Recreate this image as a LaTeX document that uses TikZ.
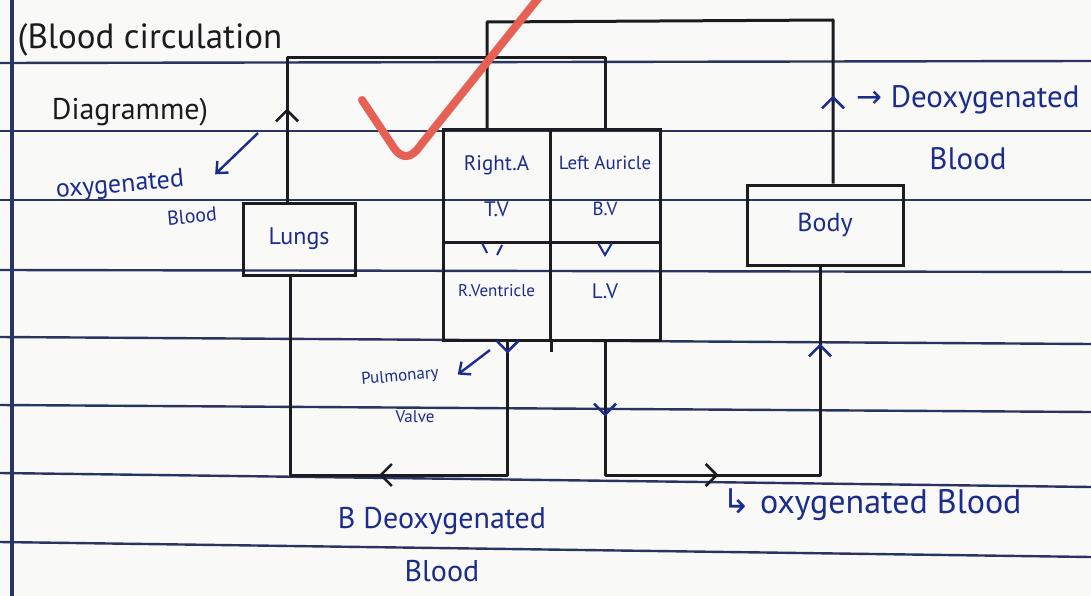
\documentclass[tikz,border=0pt]{standalone}
\usepackage{fontspec}
\setmainfont{PT Sans}
\newfontfamily\arrowfont{DejaVu Sans}
\usetikzlibrary{arrows.meta,decorations.markings}
\definecolor{inkblack}{RGB}{28,28,32}
\definecolor{inkblue}{RGB}{28,44,140}
\definecolor{ruleblue}{RGB}{42,52,96}
\definecolor{paper}{RGB}{249,249,247}
\definecolor{checkred}{RGB}{231,96,84}
\tikzset{
  pipe/.style={draw=inkblack,line width=3pt,line join=round},
  flowtip/.style 2 args={postaction={decorate,decoration={markings,mark=at position #1 with {\arrow[#2,line width=2.6pt]{Straight Barb[length=11pt,width=22pt]}}}}},
  organ/.style={draw=inkblack,line width=3pt,text=inkblue,inner sep=0pt},
  cell/.style={draw=inkblack,line width=3pt,text=inkblue,inner sep=0pt,align=center},
  note/.style={-{Straight Barb[length=9pt,width=16pt]},draw=inkblue,line width=2.4pt},
  lab/.style={text=inkblue,align=center,inner sep=1pt},
  head/.style={text=inkblack,align=left},
  ruling/.style={draw=ruleblue,line width=2.4pt}
}
\begin{document}
\begin{tikzpicture}[x=1pt,y=-1pt]
  \fill[paper] (0,0) rectangle (1091,596);
  \useasboundingbox (0,0) rectangle (1091,596);
  \foreach \ya/\yb in {63/61,131/131,200/200,270/272,337/344,405/412,473/487,542/557}{\draw[ruling] (0,\ya)--(1091,\yb);}
  \draw[ruleblue,line width=3.5pt] (12,0)--(12,596);

  \node[head,font=\fontsize{35}{38}\selectfont] (title) at (150,40) {(Blood circulation};
  \node[head,font=\fontsize{30}{34}\selectfont] (titleb) at (130,112) {Diagramme)};

  \node[organ,minimum width=112pt,minimum height=72pt,font=\fontsize{24}{28}\selectfont] (lungs) at (299,239) {Lungs};
  \node[organ,minimum width=156pt,minimum height=80pt,font=\fontsize{26}{30}\selectfont] (body) at (825,225) {Body};

  \node[cell,minimum width=107pt,minimum height=112pt,font=\fontsize{21}{46}\selectfont] (ra) at (496.5,186) {Right.A\\T.V};
  \node[cell,minimum width=110pt,minimum height=112pt,font=\fontsize{19}{46}\selectfont] (la) at (605,186) {Left Auricle\\B.V};
  \node[cell,minimum width=107pt,minimum height=98pt,font=\fontsize{17}{20}\selectfont] (rv) at (496.5,291) {R.Ventricle};
  \node[cell,minimum width=110pt,minimum height=98pt,font=\fontsize{21}{24}\selectfont] (lv) at (605,291) {L.V};
  \draw[pipe] (rv.south east) -- ++(0,10);
  \draw[inkblue,line width=2pt] (482,243)--(487,253) (502,245)--(497,255);
  \draw[inkblue,line width=2pt] (598,243)--(605,255)--(612,243);

  \coordinate (pvtop) at (287,58);
  \coordinate (vctop) at (833,20);
  \coordinate (vcleft) at (487,22);
  \coordinate (pabot) at (290,475);
  \coordinate (aobot) at (820,475);
  \draw[pipe,flowtip={93pt}{inkblack}] (pvtop |- lungs.north) -- (pvtop) -| (la.north);
  \draw[pipe,flowtip={88pt}{inkblue}] (vctop |- body.north) -- (vctop) -- (vcleft) -- (vcleft |- ra.north);
  \draw[pipe,flowtip={12pt}{inkblue},flowtip={262pt}{inkblack}] ([xshift=11pt]rv.south) |- (pabot) -- (pabot |- lungs.south);
  \draw[pipe,flowtip={75pt}{inkblue},flowtip={247pt}{inkblack},flowtip={480pt}{inkblue}] (lv.south) |- (aobot) -- (aobot |- body.south);

  \node[lab,rotate=5,font=\fontsize{26}{30}\selectfont] (oxy) at (120,186) {oxygenated};
  \node[lab,rotate=5,font=\fontsize{20}{22}\selectfont] (oxyb) at (192,216) {Blood};
  \coordinate (oxtail) at (258,133);
  \draw[note] (oxtail) -- ([shift={(30pt,6pt)}]oxy.east);

  \node[lab,rotate=5,font=\fontsize{17}{20}\selectfont] (pulm) at (400,377) {Pulmonary};
  \node[lab,font=\fontsize{17}{20}\selectfont] (valve) at (415,417) {Valve};
  \coordinate (pvtail) at (490,350);
  \draw[note] (pvtail) -- ([shift={(18pt,-1pt)}]pulm.east);

  \node[lab,font=\fontsize{31}{62}\selectfont] (deoxy) at (968,128) {{\arrowfont →} Deoxygenated\\Blood};
  \node[lab,font=\fontsize{30}{53}\selectfont] (deoxyb) at (442,545) {B Deoxygenated\\Blood};
  \node[lab,font=\fontsize{34}{38}\selectfont] (oxyc) at (872,505) {{\arrowfont ↳} oxygenated Blood};

  \draw[checkred,line width=8pt,line cap=round,line join=round] (362,100) -- (394,148) .. controls (402,160) and (412,158) .. (420,146) -- (540,-4);
\end{tikzpicture}
\end{document}
